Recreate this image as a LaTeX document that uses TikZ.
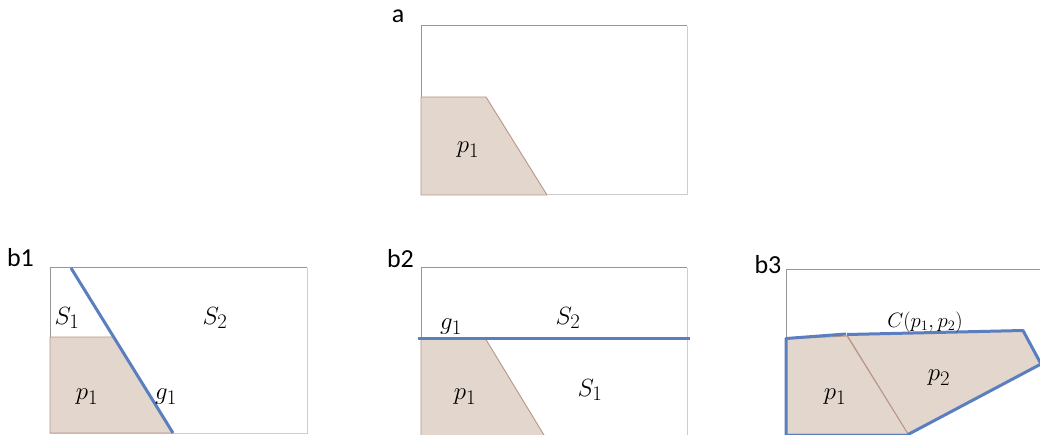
\documentclass[tikz,border=0pt]{standalone}
\usepackage{fontspec}
\newfontfamily\labfont{Carlito}
\definecolor{pfill}{RGB}{227,214,205}
\definecolor{pedge}{RGB}{185,150,135}
\definecolor{gblue}{RGB}{91,126,191}
\definecolor{boxdark}{RGB}{150,150,150}
\definecolor{boxlight}{RGB}{205,205,205}
\tikzset{
  poly/.style={fill=pfill, draw=pedge, line width=0.9pt, line join=round},
  cutline/.style={draw=gblue, line width=3pt, line join=round},
  mlabel/.style={inner sep=0pt, font=\fontsize{24.88}{30}\selectfont},
  clabel/.style={inner sep=0pt, font=\fontsize{20.74}{25}\selectfont},
  panellabel/.style={inner sep=0pt, font=\labfont\fontsize{26}{30}\selectfont},
  boxtl/.style={draw=boxdark, line width=1pt},
  boxbr/.style={draw=boxlight, line width=1pt},
}
\begin{document}
\begin{tikzpicture}[x=1pt,y=-1pt]
\useasboundingbox (0,0) rectangle (1040,435);
\clip (0,0) rectangle (1040,435);
\fill[white] (0,0) rectangle (1040,435);

% ---------- panel a ----------
\draw[boxbr] (687,26) -- (687,195) -- (421,195);
\draw[boxtl] (421,195) -- (421,26) -- (687,26);
\draw[poly] (421,97) -- (486,97) -- (547,195) -- (421,195) -- cycle;
\node[panellabel] (la) at (398,16.5) {a};
\node[mlabel] (ap1) at (468,150) {$p_1$};

% ---------- panel b1 ----------
\draw[boxbr] (307,268) -- (307,433) -- (50,433);
\draw[boxtl] (50,433) -- (50,268) -- (307,268);
\draw[poly] (50,337) -- (113,337) -- (173,433) -- (50,433) -- cycle;
\coordinate (b1gtop) at (71,268);
\coordinate (b1gbot) at (173,433);
\draw[cutline] (b1gtop) -- (b1gbot);
\node[panellabel] (lb1) at (20.5,258) {b1};
\node[mlabel] (b1S1) at (67,318) {$S_1$};
\node[mlabel] (b1S2) at (215,318) {$S_2$};
\node[mlabel] (b1p1) at (87,397) {$p_1$};
\node[mlabel] (b1g1) at (166,397) {$g_1$};

% ---------- panel b2 ----------
\draw[boxbr] (687,268) -- (687,440);
\draw[boxtl] (421,440) -- (421,268) -- (687,268);
\draw[poly] (421,338) -- (485,338) -- (547,440) -- (421,440) -- cycle;
\coordinate (b2gl) at (418,338);
\coordinate (b2gr) at (690,338);
\draw[cutline] (b2gl) -- (b2gr);
\node[panellabel] (lb2) at (400.5,259) {b2};
\node[mlabel] (b2g1) at (451,327) {$g_1$};
\node[mlabel] (b2S2) at (568,318) {$S_2$};
\node[mlabel] (b2S1) at (590,390) {$S_1$};
\node[mlabel] (b2p1) at (465,397) {$p_1$};

% ---------- panel b3 ----------
\draw[boxtl] (786,440) -- (786,270) -- (1045,270);
\draw[poly] (847,335) -- (1023,330.5) -- (1041,364) -- (908,434) -- cycle;
\draw[poly] (786,339) -- (847,336) -- (908,434) -- (786,434) -- cycle;
\coordinate (c1) at (786,440);
\coordinate (c2) at (786,338.5);
\coordinate (c3) at (846,334);
\coordinate (c4) at (847,334.5);
\coordinate (c5) at (1023,330.5);
\coordinate (c6) at (1041,364);
\coordinate (c7) at (908,434.5);
\coordinate (c8) at (784.5,434.5);
\draw[cutline] (c1) -- (c2) -- (c3);
\draw[cutline] (c4) -- (c5) -- (c6) -- (c7);
\draw[draw=gblue, line width=1.5pt] (c8) -- (c7);
\node[panellabel] (lb3) at (768,264.5) {b3};
\node[clabel] (b3C) at (925,322) {$C(p_1,p_2)$};
\node[mlabel] (b3p2) at (939,378) {$p_2$};
\node[mlabel] (b3p1) at (835,397) {$p_1$};
\end{tikzpicture}
\end{document}
